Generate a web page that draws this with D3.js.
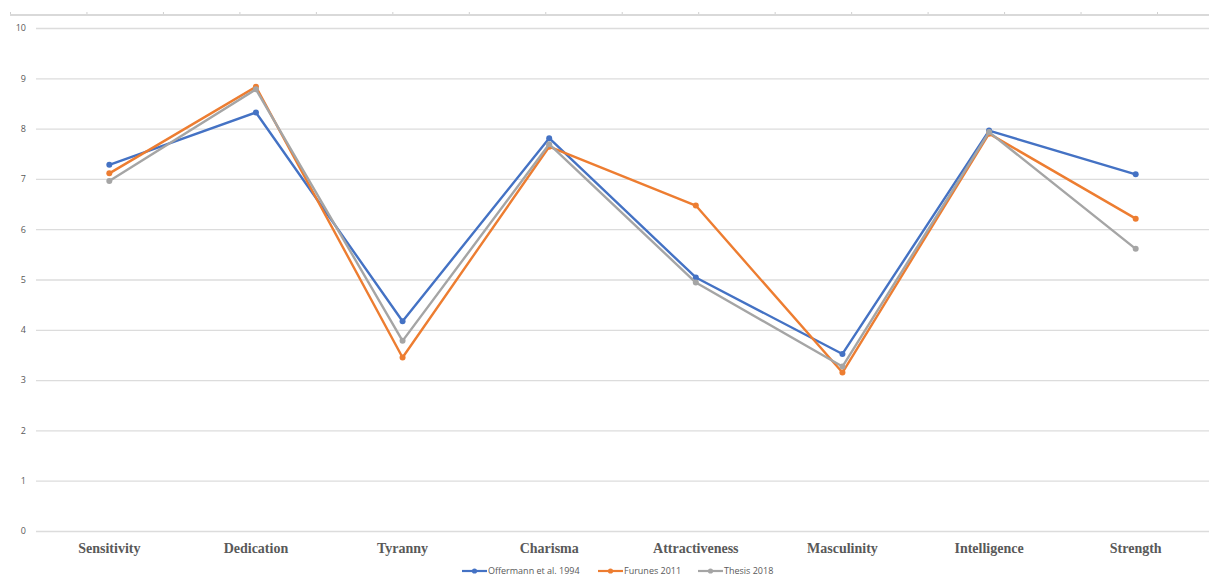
<!DOCTYPE html>
<html>
<head>
<meta charset="utf-8">
<script src="https://cdn.jsdelivr.net/npm/d3@7"></script>
<style>
  html, body { margin: 0; padding: 0; background: #fff; }
  svg { display: block; }
</style>
</head>
<body>
<svg id="chart" width="1209" height="581"></svg>
<script>
// Leadership trait ratings across three studies
const categories = ["Sensitivity", "Dedication", "Tyranny", "Charisma", "Attractiveness", "Masculinity", "Intelligence", "Strength"];
const offermann1994 = [7.28, 8.32, 4.17, 7.81, 5.04, 3.52, 7.96, 7.09];
const furunes2011   = [7.11, 8.83, 3.45, 7.64, 6.47, 3.15, 7.90, 6.21];
const thesis2018    = [6.96, 8.78, 3.78, 7.69, 4.94, 3.27, 7.93, 5.61];
const yTicks = [0, 1, 2, 3, 4, 5, 6, 7, 8, 9, 10];
const seriesNames = ["Offermann et al. 1994", "Furunes 2011", "Thesis 2018"];
const seriesColors = ["#4472C4", "#ED7D31", "#A5A5A5"];

const series = [offermann1994, furunes2011, thesis2018].map((values, i) => ({
  name: seriesNames[i],
  color: seriesColors[i],
  values
}));

const svg = d3.select("#chart");
const plot = { left: 36, right: 1209, top: 28, bottom: 531 };

const x = d3.scaleBand().domain(categories).range([plot.left, plot.right]);
const y = d3.scaleLinear().domain([0, 10]).range([plot.bottom, plot.top]);
const cx = c => x(c) + x.bandwidth() / 2;

// Thin ruler strip along the top edge
const topScale = d3.scaleLinear().domain([0, 15]).range([10, 1157]);
const topAxis = svg.append("g")
  .attr("transform", "translate(0,15)")
  .call(d3.axisTop(topScale).ticks(15).tickSize(3).tickFormat(""));
topAxis.select(".domain").remove();
topAxis.selectAll(".tick line").attr("stroke", "#d0d0d0").attr("stroke-width", 1);
svg.append("line")
  .attr("x1", 10).attr("x2", 1209).attr("y1", 15).attr("y2", 15)
  .attr("stroke", "#d9d9d9").attr("stroke-width", 2);

// Horizontal gridlines with value labels
const yAxis = svg.append("g")
  .attr("transform", `translate(${plot.left},0)`)
  .call(d3.axisLeft(y).tickValues(yTicks).tickSize(-(plot.right - plot.left)).tickPadding(10));
yAxis.select(".domain").remove();
yAxis.selectAll(".tick line").attr("stroke", "#dcdcdc").attr("stroke-width", 1.3);
yAxis.selectAll(".tick text")
  .attr("fill", "#595959")
  .attr("font-family", "'Open Sans', 'Liberation Sans', sans-serif")
  .attr("font-size", 9);

// Category labels
const xAxis = svg.append("g")
  .attr("transform", `translate(0,${plot.bottom})`)
  .call(d3.axisBottom(x).tickSize(0).tickPadding(12));
xAxis.select(".domain").remove();
xAxis.selectAll(".tick text")
  .attr("fill", "#595959")
  .attr("font-family", "'Liberation Serif', 'Times New Roman', serif")
  .attr("font-weight", "bold")
  .attr("font-size", 14);

// Lines and markers
const line = d3.line()
  .x((d, i) => cx(categories[i]))
  .y(d => y(d));

const g = svg.append("g");
series.forEach(s => {
  g.append("path")
    .datum(s.values)
    .attr("d", line)
    .attr("fill", "none")
    .attr("stroke", s.color)
    .attr("stroke-width", 2.4)
    .attr("stroke-linejoin", "round");
  g.selectAll(null)
    .data(s.values)
    .join("circle")
    .attr("cx", (d, i) => cx(categories[i]))
    .attr("cy", d => y(d))
    .attr("r", 3)
    .attr("fill", s.color);
});

// Legend
const legendX = [462, 598, 698];
const legend = svg.append("g").attr("transform", "translate(0,571)");
series.forEach((s, i) => {
  const item = legend.append("g").attr("transform", `translate(${legendX[i]},0)`);
  item.append("line")
    .attr("x1", 0).attr("x2", 25).attr("y1", 0).attr("y2", 0)
    .attr("stroke", s.color).attr("stroke-width", 2.2);
  item.append("circle").attr("cx", 12.5).attr("cy", 0).attr("r", 2.6).attr("fill", s.color);
  item.append("text")
    .attr("x", 26).attr("y", 3.3)
    .attr("fill", "#595959")
    .attr("font-family", "'Open Sans', 'Liberation Sans', sans-serif")
    .attr("font-size", 9)
    .text(s.name);
});
</script>
</body>
</html>
